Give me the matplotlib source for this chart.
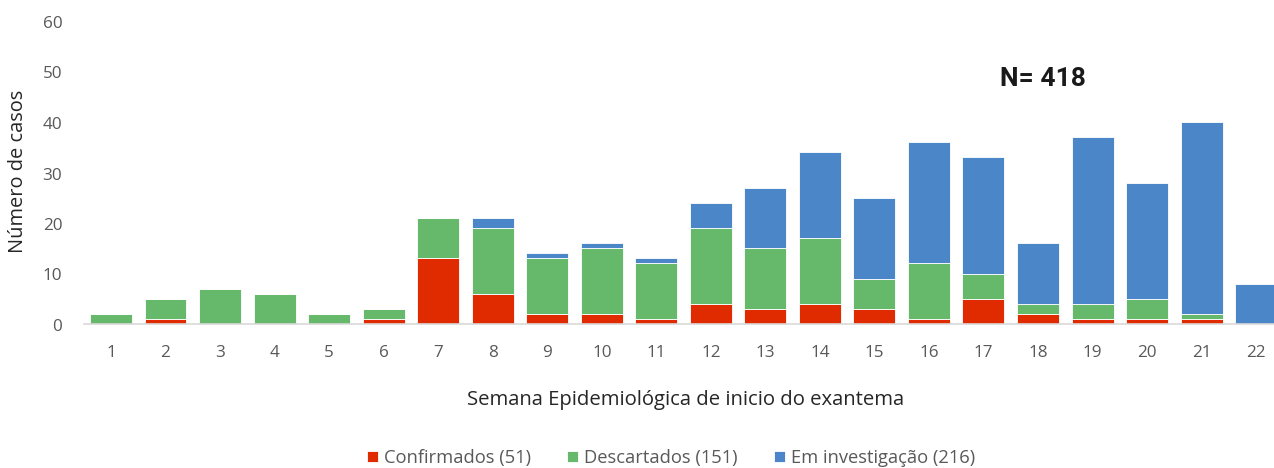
import matplotlib
matplotlib.use("Agg")
import matplotlib.pyplot as plt
import matplotlib.transforms as mtransforms
import numpy as np

weeks = [str(i) for i in range(1, 23)]
confirmados = [0, 1, 0, 0, 0, 1, 13, 6, 2, 2, 1, 4, 3, 4, 3, 1, 5, 2, 1, 1, 1, 0]
descartados = [2, 4, 7, 6, 2, 2, 8, 13, 11, 13, 11, 15, 12, 13, 6, 11, 5, 2, 3, 4, 1, 0]
investigacao = [0, 0, 0, 0, 0, 0, 0, 2, 1, 1, 1, 5, 12, 17, 16, 24, 23, 12, 33, 23, 38, 8]
legend_labels = ["Confirmados (51)", "Descartados (151)", "Em investigação (216)"]
yticks = [0, 10, 20, 30, 40, 50, 60]

plt.rcParams['font.family'] = ['Open Sans', 'DejaVu Sans']

W, H = 1274, 468
fig = plt.figure(figsize=(W / 100, H / 100), dpi=100)
left = 83.7 / W
right = 1283.4 / W
bottom = 1 - 324 / H
top = 1 - 21 / H
ax = fig.add_axes([left, bottom, right - left, top - bottom])

x = np.arange(1, len(weeks) + 1)
c = np.array(confirmados)
d = np.array(descartados)
e = np.array(investigacao)
bw = 0.77
red, green, blue = "#E02B00", "#66B96A", "#4A86C8"
ax.bar(x, c, bw, color=red, edgecolor="white", linewidth=0.6, label=legend_labels[0])
ax.bar(x, d, bw, bottom=c, color=green, edgecolor="white", linewidth=0.6, label=legend_labels[1])
ax.bar(x, e, bw, bottom=c + d, color=blue, edgecolor="white", linewidth=0.6, label=legend_labels[2])

ax.set_xlim(0.5, len(weeks) + 0.5)
ax.set_ylim(0, 60)
ax.set_yticks(yticks)
ax.set_xticks(x)
ax.set_xticklabels(weeks)
ax.tick_params(axis='both', length=0, labelsize=12.3, colors="#595959")
ax.tick_params(axis='x', pad=15)
ax.tick_params(axis='y', pad=15.5)
offset = mtransforms.ScaledTranslation(0, -3 / 100, fig.dpi_scale_trans)
for lab in ax.get_yticklabels():
    lab.set_va("center")
    lab.set_transform(lab.get_transform() + offset)
for s in ["top", "right", "left"]:
    ax.spines[s].set_visible(False)
ax.spines["bottom"].set_color("#D9D9D9")
ax.spines["bottom"].set_linewidth(1.2)
ax.set_axisbelow(True)

fig.text(18 / W, 1 - 171 / H, "Número de casos", rotation=90, ha="center", va="center",
         fontsize=14.4, color="#262626")
fig.text(686 / W, 1 - 400 / H, "Semana Epidemiológica de inicio do exantema",
         ha="center", va="center", fontsize=14.6, color="#262626")
fig.text(1043 / W, 1 - 79 / H, "N= 418", ha="center", va="center",
         fontsize=19, fontweight="bold", color="#1a1a1a", family=["Roboto", "DejaVu Sans"])

fig.legend(loc="center", bbox_to_anchor=(671 / W, 1 - 458 / H), ncol=3, frameon=False,
           fontsize=13.2, handlelength=0.6, handleheight=0.6, handletextpad=0.3,
           columnspacing=2.0, labelcolor="#595959")

fig.savefig("out.png", dpi=100)
